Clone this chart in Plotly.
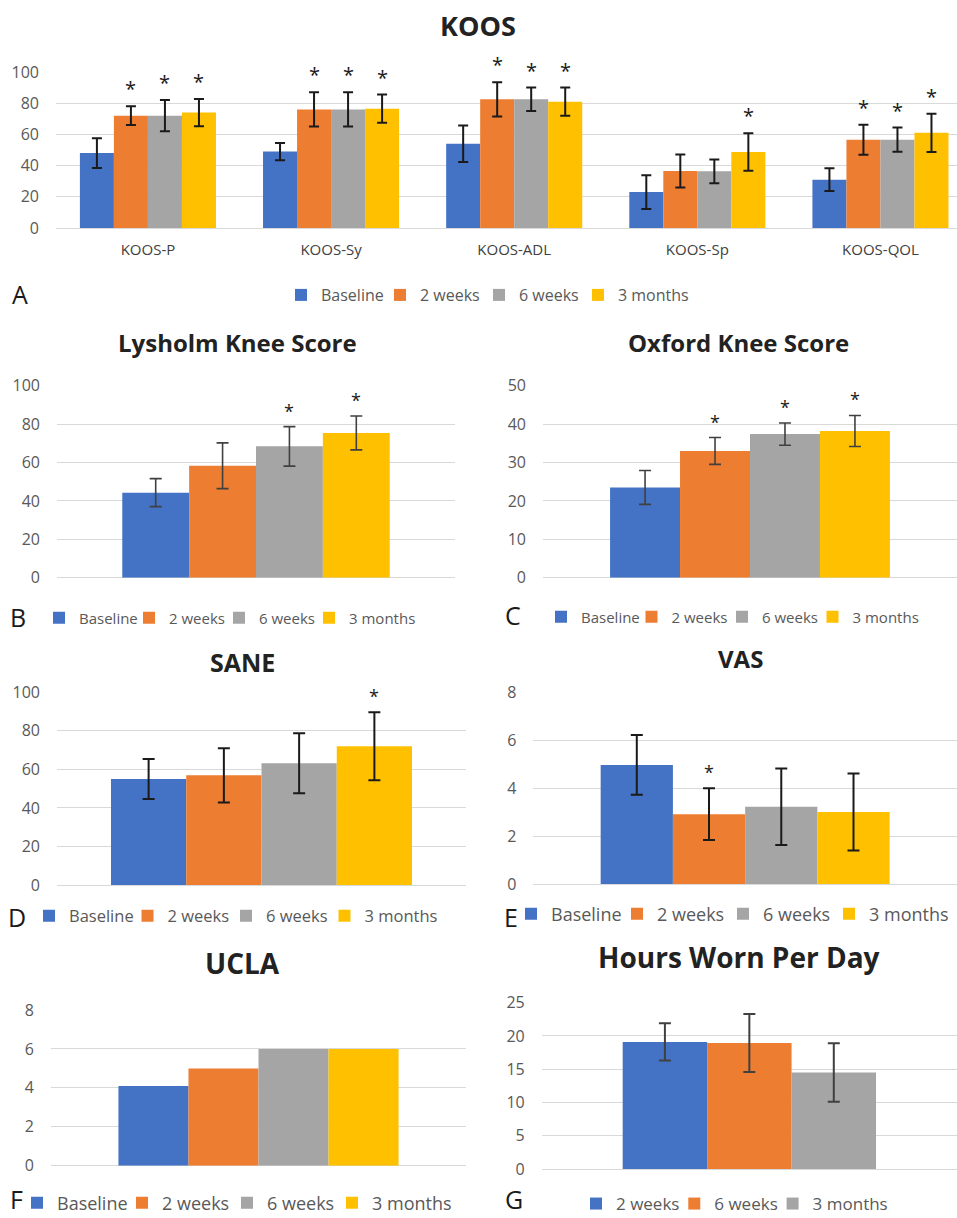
import plotly.graph_objects as go

W, H = 957, 1218
FONT = "Open Sans"

# ---- data -------------------------------------------------------------
timepoints = ["Baseline", "2 weeks", "6 weeks", "3 months"]
bar_colors = ["#4472C4", "#ED7D31", "#A5A5A5", "#FFC000"]

koos_categories = ["KOOS-P", "KOOS-Sy", "KOOS-ADL", "KOOS-Sp", "KOOS-QOL"]
koos_baseline = [48, 49, 54, 23, 31]
koos_2wk = [72, 76, 82.5, 36.5, 56.6]
koos_6wk = [72, 76, 82.5, 36.3, 56.6]
koos_3mo = [74, 76.5, 81, 48.7, 61]
koos_baseline_sd = [9.5, 5.5, 11.7, 10.8, 7.3]
koos_2wk_sd = [6, 11, 11, 10.6, 9.6]
koos_6wk_sd = [10, 11, 7.5, 7.6, 7.8]
koos_3mo_sd = [8.7, 9, 9, 12, 12.3]
koos_baseline_sig = [0, 0, 0, 0, 0]
koos_2wk_sig = [1, 1, 1, 0, 1]
koos_6wk_sig = [1, 1, 1, 0, 1]
koos_3mo_sig = [1, 1, 1, 1, 1]

lysholm_mean = [44.3, 58.3, 68.4, 75.4]
lysholm_sd = [7.3, 11.9, 10.3, 8.8]
lysholm_sig = [0, 0, 1, 1]

oxford_mean = [23.5, 33.0, 37.4, 38.2]
oxford_sd = [4.4, 3.5, 2.9, 4.05]
oxford_sig = [0, 1, 1, 1]

sane_mean = [55.0, 56.9, 63.2, 72.0]
sane_sd = [10.4, 14.1, 15.6, 17.6]
sane_sig = [0, 0, 0, 1]

vas_mean = [4.98, 2.92, 3.23, 3.01]
vas_sd = [1.25, 1.08, 1.6, 1.61]
vas_sig = [0, 1, 0, 0]

ucla_mean = [4.1, 5.0, 6.0, 6.0]

hours_timepoints = ["2 weeks", "6 weeks", "3 months"]
hours_mean = [19.1, 18.95, 14.5]
hours_sd = [2.8, 4.35, 4.4]


def fx(p):
    return p / W


def fy(p):
    return 1 - p / H


fig = go.Figure()
layout = dict(
    width=W, height=H, margin=dict(l=0, r=0, t=0, b=0, autoexpand=False),
    paper_bgcolor="white", plot_bgcolor="white",
    barmode="group", showlegend=True, annotations=[],
    font=dict(family=FONT),
)


def add_panel(n, title, title_xy, title_size, letter, letter_xy,
              cats, names, colors, means, sds, sigs,
              box, ymax, dtick, xrange, group_w,
              legend_xy, legend_step, legend_size,
              err_color="#1A1A1A", err_thick=2, err_cap=5,
              star_size=20, star_shift=2, cat_labels=False):
    ax = "" if n == 1 else str(n)
    xa, ya = "x" + ax, "y" + ax
    lg = "legend" + ax
    x0, x1, y0, ytop = box
    k = len(names)
    bw = group_w / k
    for j in range(k):
        off = -group_w / 2 + j * bw
        err = None
        if sds is not None:
            err = dict(type="data", array=sds[j], color=err_color,
                       thickness=err_thick, width=err_cap)
        # last legend entry gets room for its full label
        lw = (legend_step - 45) if j < k - 1 else 120
        fig.add_trace(go.Bar(
            x=cats, y=means[j], name=names[j], marker_color=colors[j],
            marker_line_width=0, width=bw, offset=off, error_y=err,
            xaxis=xa, yaxis=ya, legend=lg, showlegend=True, legendwidth=lw,
            hoverinfo="skip"))
        if sigs is not None:
            for i, s in enumerate(sigs[j]):
                if s:
                    layout["annotations"].append(dict(
                        x=i + off + bw / 2, y=means[j][i] + sds[j][i],
                        xref=xa, yref=ya, text="*", showarrow=False,
                        yanchor="bottom", yshift=star_shift,
                        font=dict(size=star_size, color="#1A1A1A", family=FONT)))
    layout["xaxis" + ax] = dict(
        domain=[fx(x0), fx(x1)], anchor=ya, type="category", range=xrange,
        showgrid=False, zeroline=False, showline=False, ticks="",
        showticklabels=cat_labels, ticklabelstandoff=11,
        tickfont=dict(size=15, color="#404040", family=FONT), fixedrange=True)
    layout["yaxis" + ax] = dict(
        domain=[fy(y0), fy(ytop)], anchor=xa, range=[0, ymax], dtick=dtick,
        showgrid=True, gridcolor="#D9D9D9", gridwidth=1.4,
        zeroline=True, zerolinecolor="#D9D9D9", zerolinewidth=1.4,
        showline=False, ticks="", ticklabelstandoff=16,
        tickfont=dict(size=16, color="#595959", family=FONT), fixedrange=True)
    lx, ly = legend_xy
    layout[lg] = dict(
        orientation="h", x=fx(lx - 40), xanchor="left", y=fy(ly), yanchor="middle",
        entrywidthmode="pixels",
        font=dict(size=legend_size, color="#595959", family=FONT),
        bgcolor="rgba(0,0,0,0)", traceorder="normal")
    layout["annotations"].append(dict(
        x=fx(title_xy[0]), y=fy(title_xy[1]), xref="paper", yref="paper",
        text="<b>" + title + "</b>", showarrow=False, xanchor="center", yanchor="middle",
        font=dict(size=title_size, color="#222222", family=FONT)))
    layout["annotations"].append(dict(
        x=fx(letter_xy[0]), y=fy(letter_xy[1]), xref="paper", yref="paper",
        text=letter, showarrow=False, xanchor="center", yanchor="middle",
        font=dict(size=25, color="#1A1A1A", family=FONT)))


# A: KOOS subscales
add_panel(1, "KOOS", (478, 25), 27, "A", (20, 294),
          koos_categories, timepoints, bar_colors,
          [koos_baseline, koos_2wk, koos_6wk, koos_3mo],
          [koos_baseline_sd, koos_2wk_sd, koos_6wk_sd, koos_3mo_sd],
          [koos_baseline_sig, koos_2wk_sig, koos_6wk_sig, koos_3mo_sig],
          (56, 957, 228, 72), 100, 20, [-0.502, 4.418], 0.743,
          (321, 295), 99, 16, cat_labels=True)

single = ["all"]


def one(vals):
    return [[v] for v in vals]


# B: Lysholm
add_panel(2, "Lysholm Knee Score", (237, 342), 24, "B", (17.5, 617),
          single, timepoints, bar_colors, one(lysholm_mean), one(lysholm_sd),
          one(lysholm_sig), (57, 455, 577.7, 385.7), 100, 20, [-0.5, 0.5], 0.672,
          (79, 618), 90, 15, err_color="#404040", err_thick=1.6, err_cap=6,
          star_size=18)

# C: Oxford
add_panel(3, "Oxford Knee Score", (738, 342), 24, "C", (513, 615),
          single, timepoints, bar_colors, one(oxford_mean), one(oxford_sd),
          one(oxford_sig), (543, 957, 577.7, 385.7), 50, 10, [-0.5, 0.5], 0.676,
          (581, 617), 90.5, 15, err_color="#404040", err_thick=1.6, err_cap=6,
          star_size=18)

# D: SANE
add_panel(4, "SANE", (242, 662), 25, "D", (17, 917),
          single, timepoints, bar_colors, one(sane_mean), one(sane_sd),
          one(sane_sig), (57, 466, 885, 692.3), 100, 20, [-0.5, 0.5], 0.736,
          (69, 916), 98.5, 16.5, err_thick=2, err_cap=6, star_size=18)

# E: VAS
add_panel(5, "VAS", (740, 659), 24, "E", (510.5, 917),
          single, timepoints, bar_colors, one(vas_mean), one(vas_sd),
          one(vas_sig), (533.3, 957, 884, 692.7), 8, 2, [-0.5, 0.5], 0.682,
          (551, 914), 106, 18, err_thick=2, err_cap=6, star_size=18)

# F: UCLA
add_panel(6, "UCLA", (242, 963), 28, "F", (16.5, 1199),
          single, timepoints, bar_colors, one(ucla_mean), None, None,
          (51, 466, 1165.7, 1010), 8, 2, [-0.5, 0.5], 0.675,
          (57, 1203), 105, 18)

# G: hours of wear
add_panel(7, "Hours Worn Per Day", (739, 957), 28, "G", (514, 1199),
          single, hours_timepoints, bar_colors[:3], one(hours_mean), one(hours_sd),
          None, (541.7, 957, 1169, 1002.7), 25, 5, [-0.5, 0.5], 0.61,
          (616, 1204), 98.3, 17, err_color="#404040", err_thick=2, err_cap=6)

fig.update_layout(**layout)
fig.write_html("out.html")
